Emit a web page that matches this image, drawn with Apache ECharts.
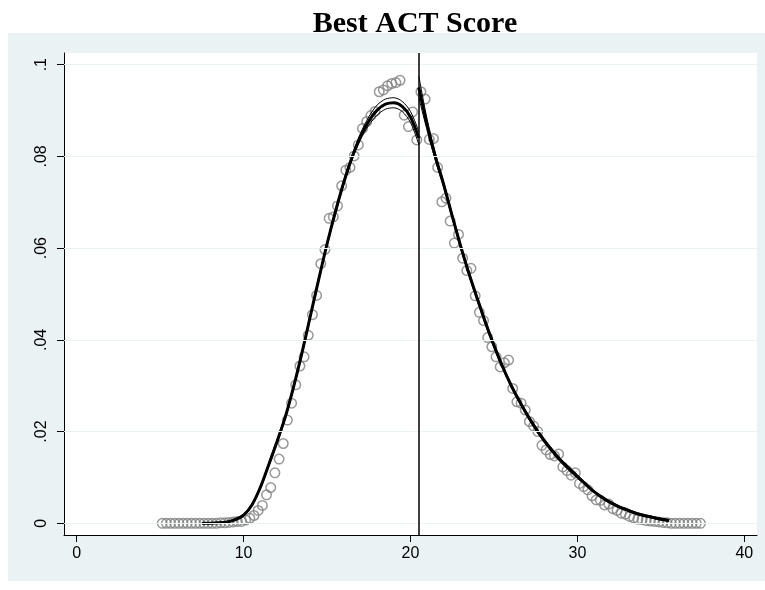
<!DOCTYPE html>
<html><head><meta charset="utf-8">
<script src="https://cdn.jsdelivr.net/npm/echarts@6/dist/echarts.min.js"></script>
<style>html,body{margin:0;padding:0;background:#fff}#c{width:765px;height:590px}</style>
</head><body><div id="c"></div>
<script>
// Binned density (circles)
const binXLeft = [5.125,5.375,5.625,5.875,6.125,6.375,6.625,6.875,7.125,7.375,7.625,7.875,8.125,8.375,8.625,8.875,9.125,9.375,9.625,9.875,
  10.125,10.375,10.625,10.875,11.125,11.375,11.625,11.875,12.125,12.375,12.625,12.875,13.125,13.375,13.625,13.875,14.125,14.375,14.625,14.875,
  15.125,15.375,15.625,15.875,16.125,16.375,16.625,16.875,17.125,17.375,17.625,17.875,18.125,18.375,18.625,18.875,19.125,19.375,19.625,19.875,
  20.125,20.375];
const binYLeft = [0,0,0,0,0,0,0,0,0,0,0,0,0,0,0.0001,0.0001,0.0002,0.0003,0.0004,0.0004,
  0.0007,0.0011,0.0017,0.0028,0.0039,0.0062,0.0078,0.0110,0.0140,0.0174,0.0225,0.0262,0.0302,0.0343,0.0363,0.0410,0.0455,0.0497,0.0566,0.0597,
  0.0665,0.0668,0.0692,0.0736,0.0770,0.0776,0.0801,0.0825,0.0861,0.0876,0.0889,0.0898,0.0941,0.0945,0.0954,0.0959,0.0961,0.0966,0.0890,0.0865,
  0.0897,0.0836];
const binXRight = [20.625,20.875,21.125,21.375,21.625,21.875,22.125,22.375,22.625,22.875,23.125,23.375,23.625,23.875,24.125,24.375,24.625,24.875,
  25.125,25.375,25.625,25.875,26.125,26.375,26.625,26.875,27.125,27.375,27.625,27.875,28.125,28.375,28.625,28.875,29.125,29.375,29.625,29.875,
  30.125,30.375,30.625,30.875,31.125,31.375,31.625,31.875,32.125,32.375,32.625,32.875,33.125,33.375,33.625,33.875,34.125,34.375,34.625,34.875,
  35.125,35.375,35.625,35.875,36.125,36.375,36.625,36.875,37.125,37.375];
const binYRight = [0.0941,0.0925,0.0837,0.0839,0.0776,0.0701,0.0709,0.0659,0.0611,0.0630,0.0578,0.0551,0.0556,0.0496,0.0460,0.0442,0.0405,0.0385,
  0.0363,0.0341,0.0350,0.0356,0.0294,0.0265,0.0262,0.0247,0.0222,0.0212,0.0200,0.0170,0.0160,0.0150,0.0147,0.0151,0.0123,0.0115,0.0105,0.0110,
  0.0087,0.0080,0.0073,0.0060,0.0051,0.0050,0.0040,0.0042,0.0032,0.0028,0.0022,0.0020,0.0015,0.0012,0.0009,0.0008,0.0006,0.0005,0.0004,0.0003,
  0.0002,0.0001,0,0,0,0,0,0,0,0];

// Fitted density, left of cutoff
const fitXLeft = [7.5,8,8.5,9,9.5,10,10.5,11,11.5,12,12.5,13,13.5,14,14.5,15,15.5,16,16.5,17,17.5,18,18.5,19,19.5,20,20.5];
const fitYLeft = [0,0,0.0001,0.0003,0.0008,0.0018,0.0040,0.0078,0.0127,0.0178,0.0232,0.0298,0.0372,0.0452,0.0532,0.0609,0.0679,0.0743,0.0798,0.0843,0.0877,0.0901,0.0914,0.0917,0.0909,0.0886,0.0840];
const ciHiLeft = [0.0001,0.0001,0.0002,0.0004,0.0010,0.0020,0.0042,0.0080,0.0131,0.0182,0.0236,0.0302,0.0376,0.0456,0.0536,0.0613,0.0684,0.0748,0.0803,0.0850,0.0886,0.0912,0.0925,0.0928,0.0920,0.0898,0.0854];
const ciLoLeft = [0,0,0,0.0002,0.0006,0.0016,0.0038,0.0076,0.0123,0.0174,0.0228,0.0294,0.0368,0.0448,0.0528,0.0605,0.0674,0.0738,0.0793,0.0836,0.0868,0.0890,0.0903,0.0906,0.0898,0.0874,0.0826];

// Fitted density, right of cutoff
const fitXRight = [20.5,21,21.5,22,22.5,23,23.5,24,24.5,25,25.5,26,26.5,27,27.5,28,28.5,29,29.5,30,30.5,31,31.5,32,32.5,33,33.5,34,34.5,35,35.5];
const fitYRight = [0.0950,0.0868,0.0798,0.0737,0.0670,0.0605,0.0545,0.0490,0.0437,0.0388,0.0343,0.0303,0.0268,0.0236,0.0207,0.0181,0.0158,0.0137,0.0119,0.0102,0.0085,0.0069,0.0056,0.0045,0.0036,0.0029,0.0022,0.0017,0.0013,0.0009,0.0006];
const ciHiRight = [0.0975,0.0880,0.0806,0.0743,0.0675,0.0610,0.0550,0.0495,0.0442,0.0393,0.0347,0.0307,0.0272,0.0240,0.0211,0.0185,0.0162,0.0141,0.0123,0.0106,0.0087,0.0071,0.0058,0.0047,0.0038,0.0031,0.0024,0.0019,0.0015,0.0011,0.0008];
const ciLoRight = [0.0928,0.0856,0.0790,0.0731,0.0665,0.0600,0.0540,0.0485,0.0432,0.0383,0.0339,0.0299,0.0264,0.0232,0.0203,0.0177,0.0154,0.0133,0.0115,0.0098,0.0083,0.0067,0.0054,0.0043,0.0034,0.0027,0.0020,0.0015,0.0011,0.0007,0.0004];

const cutoff = 20.5;
const xTicks = [0,10,20,30,40];
const yTicks = [0,0.02,0.04,0.06,0.08,0.1];
const titleText = 'Best ACT Score';

const zip = (xs, ys) => xs.map((x, i) => [x, ys[i]]);
const fmtY = v => v === 0 ? '0' : v.toFixed(2).replace(/0+$/, '').replace(/^0/, '');

const chart = echarts.init(document.getElementById('c'), null, {renderer: 'canvas'});
const thin = {color: '#000', width: 1};
const thick = {color: '#000', width: 3};
chart.setOption({
  animation: false,
  backgroundColor: '#fff',
  graphic: [{type: 'rect', z: -10, silent: true, shape: {x: 8, y: 33, width: 757, height: 548}, style: {fill: '#EAF2F3'}}],
  title: {text: titleText, left: 410, textAlign: 'center', top: 4,
    textStyle: {fontFamily: 'Liberation Serif', fontWeight: 'bold', fontSize: 30, color: '#000'}},
  grid: {left: 64, right: 8, top: 53, bottom: 55, show: true, backgroundColor: '#fff', borderWidth: 0},
  xAxis: {type: 'value', min: -0.76, max: 40.76,
    axisLine: {show: true, onZero: false, lineStyle: {color: '#000', width: 1}},
    axisTick: {show: true, length: 7, customValues: xTicks, lineStyle: {color: '#000'}},
    axisLabel: {customValues: xTicks, margin: 11, fontFamily: 'Liberation Sans', fontSize: 16, color: '#000'},
    splitLine: {show: false}},
  yAxis: {type: 'value', min: -0.00255, max: 0.10255,
    axisLine: {show: true, onZero: false, lineStyle: {color: '#000', width: 1}},
    axisTick: {show: true, length: 7, customValues: yTicks, lineStyle: {color: '#000'}},
    axisLabel: {customValues: yTicks, rotate: 90, margin: 14, fontFamily: 'Liberation Sans', fontSize: 16, color: '#000', formatter: fmtY},
    splitLine: {show: false}},
  series: [
    {type: 'line', data: [], z: 1, silent: true,
      markLine: {silent: true, symbol: 'none', label: {show: false}, animation: false,
        lineStyle: {color: '#EAF2F3', width: 1, type: 'solid'},
        data: yTicks.map(v => ({yAxis: v}))}},
    {type: 'scatter', data: zip(binXLeft, binYLeft).concat(zip(binXRight, binYRight)), z: 2,
      symbol: 'circle', symbolSize: 9.5,
      itemStyle: {color: 'rgba(0,0,0,0)', borderColor: '#808080', borderWidth: 1.5}},
    {type: 'line', data: zip(fitXLeft, ciHiLeft), smooth: 0.3, showSymbol: false, lineStyle: thin, z: 3},
    {type: 'line', data: zip(fitXLeft, ciLoLeft), smooth: 0.3, showSymbol: false, lineStyle: thin, z: 3},
    {type: 'line', data: zip(fitXLeft, fitYLeft), smooth: 0.3, showSymbol: false, lineStyle: thick, z: 4},
    {type: 'line', data: zip(fitXRight, ciHiRight), smooth: 0.3, showSymbol: false, lineStyle: thin, z: 3},
    {type: 'line', data: zip(fitXRight, ciLoRight), smooth: 0.3, showSymbol: false, lineStyle: thin, z: 3},
    {type: 'line', data: zip(fitXRight, fitYRight), smooth: 0.3, showSymbol: false, lineStyle: thick, z: 4,
      markLine: {silent: true, symbol: 'none', label: {show: false}, animation: false,
        lineStyle: {color: '#000', width: 1.5, type: 'solid'},
        data: [{xAxis: cutoff}]}}
  ]
});
</script></body></html>
